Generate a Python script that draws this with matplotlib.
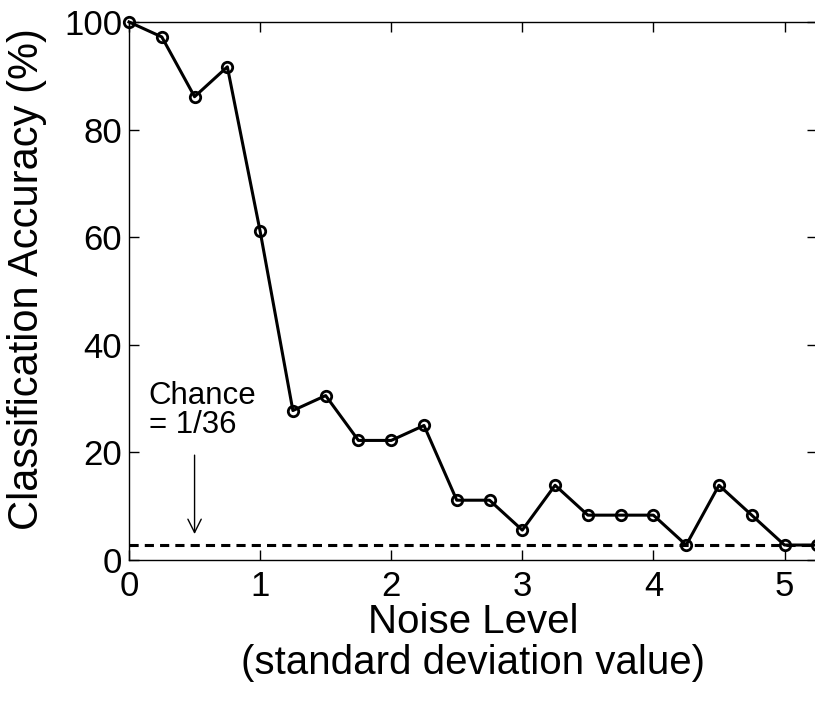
import numpy as np
import matplotlib
matplotlib.use('Agg')
import matplotlib.pyplot as plt

plt.rcParams['font.family'] = ['Liberation Sans', 'DejaVu Sans']

noise = [0, 0.25, 0.5, 0.75, 1, 1.25, 1.5, 1.75, 2, 2.25, 2.5,
         2.75, 3, 3.25, 3.5, 3.75, 4, 4.25, 4.5, 4.75, 5, 5.25]
# accuracy in counts out of 36
correct = [36, 35, 31, 33, 22, 10, 11, 8, 8, 9, 4,
           4, 2, 5, 3, 3, 3, 1, 5, 3, 1, 1]
acc = np.array(correct) / 36 * 100
chance = 100 / 36

fig = plt.figure(figsize=(8.15, 7.02), dpi=100)
ax = fig.add_axes([0.1583, 0.2023, 0.8445, 0.7664])

ax.plot(noise, acc, '-o', color='k', lw=2.2, ms=7.5, mfc='none', mew=2, clip_on=False, zorder=3)
ax.axhline(chance, color='k', ls=(0, (3, 2)), lw=2.2)

ax.annotate('', xy=(0.5, 4.3), xytext=(0.5, 20),
            arrowprops=dict(arrowstyle='->', color='k', lw=1, mutation_scale=24))
ax.text(0.15, 23.6, 'Chance\n= 1/36', fontsize=22.5, ha='left', va='baseline', linespacing=0.95)

ax.set_xlim(0, 5.25)
ax.set_ylim(0, 100)
ax.set_xticks([0, 1, 2, 3, 4, 5])
ax.set_yticks([0, 20, 40, 60, 80, 100])
ax.tick_params(direction='in', length=7, width=1, labelsize=25, top=True, right=True)
ax.tick_params(axis='x', pad=7)
ax.tick_params(axis='y', pad=5)
for s in ax.spines.values():
    s.set_linewidth(1)

ax.set_xlabel('Noise Level\n(standard deviation value)', fontsize=29, labelpad=0, linespacing=1.12)
ax.set_ylabel('Classification Accuracy (%)', fontsize=30, labelpad=12, y=0.522)

fig.savefig('out.png', dpi=100)
